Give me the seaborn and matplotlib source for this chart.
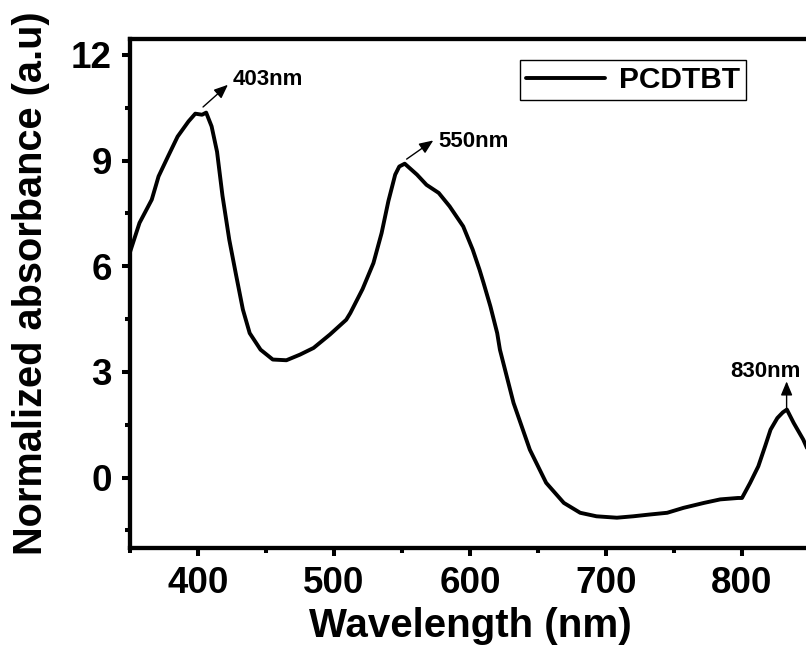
import matplotlib
matplotlib.use("Agg")
import matplotlib.pyplot as plt
import seaborn as sns
import pandas as pd
from matplotlib.ticker import MultipleLocator

# ---- data ----
wavelength = [350, 357, 366, 371, 378, 385, 393, 398, 403, 406, 410, 414, 418, 423, 428,
              433, 438, 446, 455, 465, 475, 485, 497, 509, 512, 521, 529, 535, 540, 545,
              548, 552, 561, 568, 577, 585, 595, 602, 607, 610, 615, 620, 622, 632, 644,
              656, 669, 681, 693, 708, 720, 732, 745, 757, 772, 784, 797, 800, 806, 812,
              817, 821, 826, 830, 833, 838, 845, 850]
absorbance = [6.40, 7.23, 7.89, 8.55, 9.12, 9.68, 10.11, 10.33, 10.30, 10.36, 9.97, 9.25, 8.00,
              6.75, 5.75, 4.77, 4.10, 3.63, 3.35, 3.33, 3.49, 3.68, 4.06, 4.48, 4.67, 5.35,
              6.09, 6.94, 7.85, 8.60, 8.83, 8.91, 8.60, 8.31, 8.08, 7.70, 7.13, 6.47, 5.90,
              5.52, 4.86, 4.10, 3.63, 2.12, 0.79, -0.15, -0.72, -1.00, -1.10, -1.14, -1.10,
              -1.05, -1.00, -0.86, -0.72, -0.62, -0.58, -0.58, -0.15, 0.32, 0.89, 1.36, 1.69,
              1.85, 1.93, 1.55, 1.08, 0.65]
series_name = "PCDTBT"
x_ticks = [400, 500, 600, 700, 800]
y_ticks = [0, 3, 6, 9, 12]
peak_labels = ["403nm", "550nm", "830nm"]

df = pd.DataFrame({"Wavelength": wavelength, "Absorbance": absorbance, "Sample": series_name})

sns.set_style("ticks")
plt.rcParams["font.family"] = ["Liberation Sans", "DejaVu Sans"]
plt.rcParams["font.weight"] = "bold"
for key in ["text.color", "axes.labelcolor", "xtick.color", "ytick.color", "axes.edgecolor"]:
    plt.rcParams[key] = "black"

fig = plt.figure(figsize=(8.06, 6.55), dpi=100)
ax = fig.add_axes([130 / 806, 1 - 548 / 655, 680 / 806, (548 - 39) / 655])

sns.lineplot(data=df, x="Wavelength", y="Absorbance", hue="Sample", palette=["black"],
             linewidth=2.8, ax=ax, sort=False)

ax.set_xlim(350, 850)
ax.set_ylim(-2, 12.45)
ax.set_xticks(x_ticks)
ax.set_yticks(y_ticks)
ax.xaxis.set_minor_locator(MultipleLocator(50))
ax.yaxis.set_minor_locator(MultipleLocator(1.5))

for s in ax.spines.values():
    s.set_linewidth(3.1)
    s.set_color("black")

ax.tick_params(axis="both", which="major", direction="out", length=6, width=2.9,
               labelsize=26.5, pad=7, colors="black")
ax.tick_params(axis="both", which="minor", direction="out", length=3.5, width=2.9)
for lab in ax.get_xticklabels() + ax.get_yticklabels():
    lab.set_fontweight("bold")

ax.set_xlabel("Wavelength (nm)", fontsize=29, fontweight="bold", labelpad=4, color="black")
ax.set_ylabel("Normalized absorbance (a.u)", fontsize=28.6, fontweight="bold", labelpad=15,
              color="black")
ax.yaxis.label.set_y(0.52)

# annotations
arrow = dict(arrowstyle="-|>,head_length=0.6,head_width=0.25", color="black", lw=1.0,
             shrinkA=0, shrinkB=0, mutation_scale=14)
ax.annotate("", xy=(422, 11.15), xytext=(403.7, 10.52), arrowprops=arrow)
ax.text(425.5, 11.29, peak_labels[0], fontsize=16, fontweight="bold", va="center", ha="left",
        color="black")
ax.annotate("", xy=(573, 9.57), xytext=(553.4, 9.04), arrowprops=arrow)
ax.text(577, 9.54, peak_labels[1], fontsize=16, fontweight="bold", va="center", ha="left",
        color="black")
ax.annotate("", xy=(832.8, 2.73), xytext=(832.8, 1.95), arrowprops=arrow)
ax.text(817.5, 3.02, peak_labels[2], fontsize=16, fontweight="bold", va="center", ha="center",
        color="black")

leg = ax.legend(loc="upper right", bbox_to_anchor=(746 / 806, 1 - 60 / 655),
                bbox_transform=fig.transFigure, borderaxespad=0, frameon=True,
                fancybox=False, edgecolor="black", framealpha=1,
                prop={"size": 21.5, "weight": "bold"}, handlelength=2.65,
                handletextpad=0.45, borderpad=0.2)
leg.get_frame().set_linewidth(1.0)
for t in leg.get_texts():
    t.set_color("black")
for line in leg.get_lines():
    line.set_linewidth(2.8)

fig.savefig("out.png", dpi=100)
